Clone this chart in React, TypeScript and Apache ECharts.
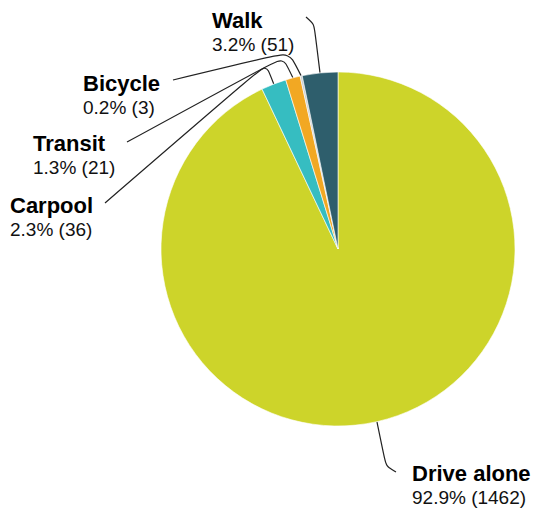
import React, { useEffect, useRef } from "react";
import * as echarts from "echarts";

const categories = ["Drive alone", "Carpool", "Transit", "Bicycle", "Walk"];
const counts = [1462, 36, 21, 3, 51];
const colors = ["#CDD42A", "#36BDC1", "#F2A823", "#C9CED0", "#2E5E6C"];

// label box top-left and leader line (elbow, end) for each category
const labelBoxes = [
  [412, 461],
  [10, 193],
  [33, 131],
  [83, 71],
  [212, 8],
];
const lineBends = [
  [[386, 466], [396, 472]],
  [[266, 64], [105, 203]],
  [[283, 57], [127, 142]],
  [[289, 52], [173, 80]],
  [[314, 24], [306, 17]],
];

export default function App() {
  const ref = useRef<HTMLDivElement>(null);
  useEffect(() => {
    document.body.style.margin = "0";
    const chart = echarts.init(ref.current!, undefined, { renderer: "svg" });
    const total = counts.reduce((a, b) => a + b, 0);
    chart.setOption({
      animation: false,
      backgroundColor: "#ffffff",
      series: [
        {
          type: "pie",
          center: [338, 249],
          radius: 177,
          startAngle: 90,
          clockwise: true,
          avoidLabelOverlap: false,
          data: categories.map((c, i) => ({
            name: c,
            value: counts[i],
            itemStyle: { color: colors[i] },
          })),
          itemStyle: { borderColor: "#ffffff", borderWidth: 0.6 },
          label: {
            show: true,
            position: "outside",
            formatter: (p: any) =>
              `{n|${p.name}}\n{v|${((p.value / total) * 100).toFixed(1)}% (${p.value})}`,
            rich: {
              n: {
                fontFamily: "Liberation Sans, Arial, sans-serif",
                fontWeight: "bold",
                fontSize: 22,
                lineHeight: 25,
                color: "#000",
              },
              v: {
                fontFamily: "Liberation Sans, Arial, sans-serif",
                fontSize: 19,
                lineHeight: 22,
                color: "#111",
              },
            },
          },
          labelLine: {
            show: true,
            smooth: 0.25,
            lineStyle: { color: "#222", width: 1.2 },
          },
          labelLayout: (params: any) => {
            const i = params.dataIndex;
            const start = params.labelLinePoints
              ? params.labelLinePoints[0]
              : lineBends[i][0];
            return {
              x: labelBoxes[i][0],
              y: labelBoxes[i][1],
              align: "left",
              verticalAlign: "top",
              labelLinePoints: [start, lineBends[i][0], lineBends[i][1]],
            };
          },
        },
      ],
    });
    return () => chart.dispose();
  }, []);
  return (
    <div
      ref={ref}
      style={{ position: "absolute", left: 0, top: 0, width: 536, height: 510 }}
    />
  );
}
